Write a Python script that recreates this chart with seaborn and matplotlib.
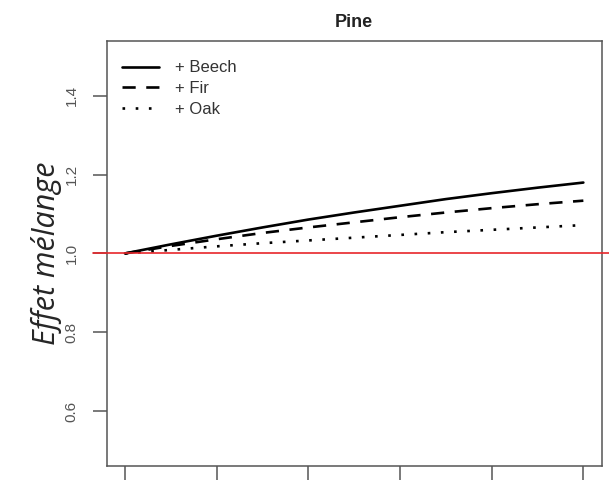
import pandas as pd
import numpy as np
import matplotlib
matplotlib.use("Agg")
import matplotlib.pyplot as plt
import seaborn as sns

# proportion of the partner species (x ticks carry no labels in the source)
prop = [0.0, 0.1, 0.2, 0.3, 0.4, 0.5, 0.6, 0.7, 0.8, 0.9, 1.0]
beech = [1.000, 1.023, 1.045, 1.066, 1.086, 1.104, 1.121, 1.138, 1.153, 1.167, 1.180]
fir = [1.000, 1.019, 1.036, 1.052, 1.066, 1.079, 1.092, 1.104, 1.115, 1.125, 1.134]
oak = [1.000, 1.009, 1.018, 1.026, 1.033, 1.040, 1.047, 1.054, 1.060, 1.066, 1.072]
labels = ["+ Beech", "+ Fir", "+ Oak"]
yticks = [0.6, 0.8, 1.0, 1.2, 1.4]
xticks = [0.0, 0.2, 0.4, 0.6, 0.8, 1.0]

sns.set_style("white")
plt.rcParams['font.family'] = ['Liberation Sans', 'DejaVu Sans']

df = pd.DataFrame({
    "prop": prop * 3,
    "effet": beech + fir + oak,
    "mix": np.repeat(labels, len(prop)),
})

fig = plt.figure(figsize=(6.09, 4.8), dpi=100)
ax = fig.add_axes([0.175, 0.029, 0.813, 0.886])

dashes = {"+ Beech": "", "+ Fir": (5, 4), "+ Oak": (1, 4)}
sns.lineplot(data=df, x="prop", y="effet", style="mix", dashes=dashes,
             color="black", linewidth=1.9, ax=ax, legend=True)

ax.axhline(1.0, xmin=-0.028, xmax=1.02, color="#e8262b", linewidth=1.2, clip_on=False, zorder=5)

ax.set_xlim(-0.04, 1.04)
ax.set_ylim(0.46, 1.54)
ax.set_xticks(xticks)
ax.set_xticklabels([])
ax.set_yticks(yticks)
ax.set_yticklabels([f"{v:.1f}" for v in yticks], rotation=90, va="center",
                   fontsize=11, color="#555555")
ax.tick_params(axis="both", which="both", length=10, width=1.1, color="#555555",
               left=True, bottom=True, pad=10)
for s in ax.spines.values():
    s.set_color("#555555")
    s.set_linewidth(1.1)

ax.set_xlabel("")
ax.set_ylabel("Effet mélange", fontsize=22, style="italic",
              family=["Open Sans", "DejaVu Sans"], labelpad=2)
ax.set_title("Pine", fontsize=13, fontweight="bold", color="#222222", pad=10)

handles, lbls = ax.get_legend_handles_labels()
leg = ax.legend(handles, lbls, loc="upper left", bbox_to_anchor=(0.031, 0.954),
                frameon=False, fontsize=12, handlelength=2.2, handletextpad=1.0,
                labelspacing=0.35, borderaxespad=0, borderpad=0, title=None)
for t in leg.get_texts():
    t.set_color("#333333")

fig.savefig("out.png", dpi=100)
